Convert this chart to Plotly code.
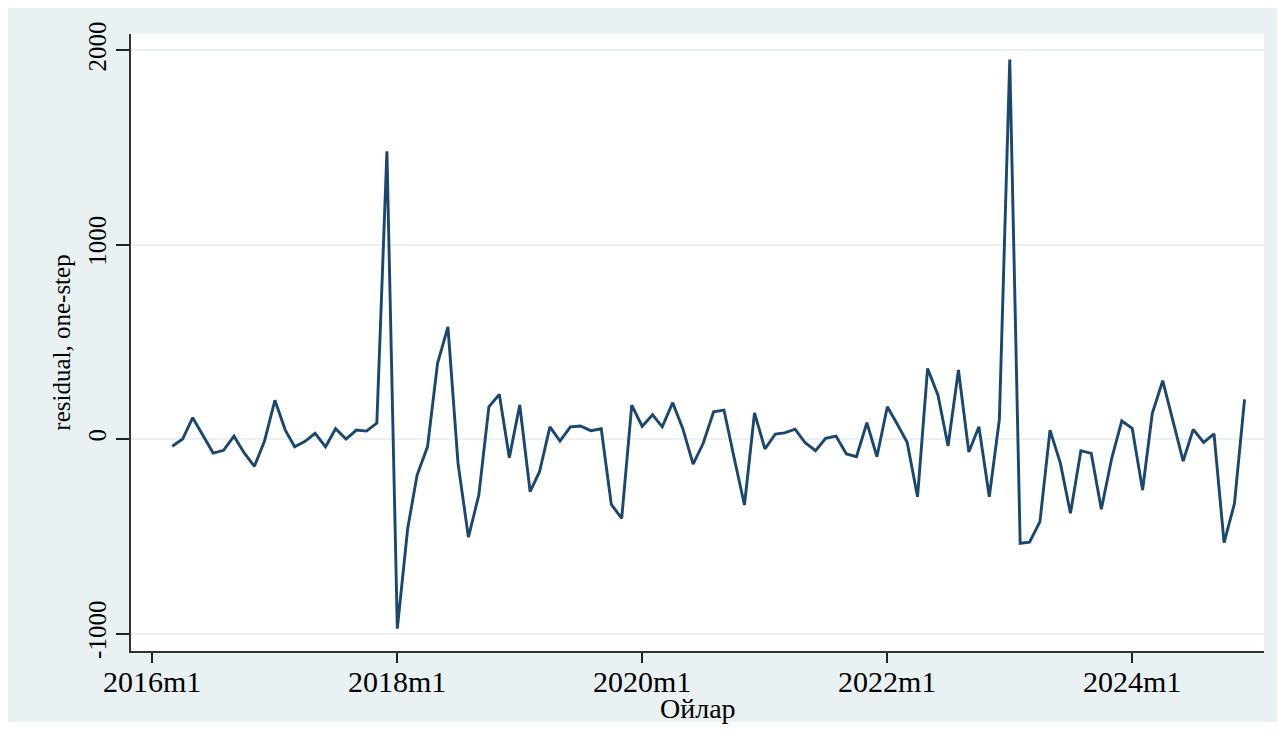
import pandas as pd
import plotly.graph_objects as go

# Monthly one-step residuals, 2016m3 .. 2024m12
start_month = "2016-03-01"
residual = [
    -37, 0, 110, 20, -72, -58, 15, -70, -140, -10,
    199, 46, -40, -12, 29, -40, 53, 0, 46, 41,
    82, 1480, -975, -459, -185, -40, 389, 577, -125, -505,
    -288, 166, 230, -96, 175, -271, -168, 63, -10, 63,
    67, 43, 53, -336, -408, 175, 65, 125, 63, 187,
    55, -129, -22, 140, 149, -95, -339, 135, -51, 26,
    32, 51, -19, -60, 4, 15, -77, -91, 84, -91,
    166, 72, -17, -297, 363, 226, -36, 355, -67, 63,
    -297, 101, 1952, -536, -530, -425, 46, -125, -382, -60,
    -74, -361, -99, 93, 55, -262, 132, 300, 98, -113,
    50, -17, 26, -533, -331, 204,
]
months = pd.date_range(start_month, periods=len(residual), freq="MS")

x_tick_vals = ["2016-01-01", "2018-01-01", "2020-01-01", "2022-01-01", "2024-01-01"]
x_tick_text = ["2016m1", "2018m1", "2020m1", "2022m1", "2024m1"]
y_tick_vals = [-1000, 0, 1000, 2000]
y_tick_text = ["-1000", "0", "1000", "2000"]
x_title = "Ойлар"
y_title = "residual, one-step"

NAVY = "#1A476F"
RED = "#C8102E"
BG = "#EAF1F3"
FONT = "Liberation Serif"

fig = go.Figure()
fig.add_trace(go.Scatter(
    x=months, y=residual, mode="lines",
    line=dict(color=NAVY, width=2.9), showlegend=False,
))

fig.add_hline(y=0, line=dict(color=RED, width=2.2), layer="above")

# the page body adds an 8px offset; figure covers 8..1285 x 8..733
W, H = 1277, 725
L, R, T, B = 123, 1256, 26, 643
pw, ph = R - L, B - T

def px_x(p):
    return (p - L) / pw

def px_y(p):
    return (B - p) / ph

shapes = [
    dict(type="rect", xref="paper", yref="paper", x0=px_x(0), x1=px_x(W),
         y0=px_y(H), y1=px_y(714), fillcolor="white", line=dict(width=0), layer="below"),
]

annotations = [
    dict(text=x_title, xref="paper", yref="paper", x=px_x(690), y=px_y(700),
         xanchor="center", yanchor="middle", showarrow=False,
         font=dict(size=28, family=FONT, color="black")),
]
for tv, tt in zip(x_tick_vals, x_tick_text):
    annotations.append(dict(
        text=tt, xref="x", yref="paper", x=tv, y=px_y(674),
        xanchor="center", yanchor="middle", showarrow=False,
        font=dict(size=30, family=FONT, color="black"),
    ))

fig.update_layout(
    width=W, height=H,
    margin=dict(l=L, r=W - R, t=T, b=H - B, pad=0),
    paper_bgcolor=BG, plot_bgcolor="white",
    font=dict(family=FONT, color="black"),
    shapes=shapes, annotations=annotations,
    xaxis=dict(
        range=["2015-10-30", "2025-01-28"],
        tickvals=x_tick_vals, ticktext=x_tick_text, showticklabels=False,
        ticks="outside", ticklen=10, tickwidth=1.5, tickcolor="#222",
        showline=True, linecolor="#333", linewidth=2,
        showgrid=False, zeroline=False, automargin=False,
    ),
    yaxis=dict(
        range=[-1090, 2083],
        tickvals=y_tick_vals, ticktext=y_tick_text,
        tickangle=-90,
        tickfont=dict(size=25, family=FONT),
        ticks="outside", ticklen=13, tickwidth=1.5, tickcolor="#222",
        showline=True, linecolor="#333", linewidth=2,
        showgrid=True, gridcolor=BG, gridwidth=1.5,
        zeroline=False, automargin=False,
        title=dict(text=y_title, font=dict(size=25, family=FONT), standoff=6),
    ),
)

fig.write_html("out.html")
